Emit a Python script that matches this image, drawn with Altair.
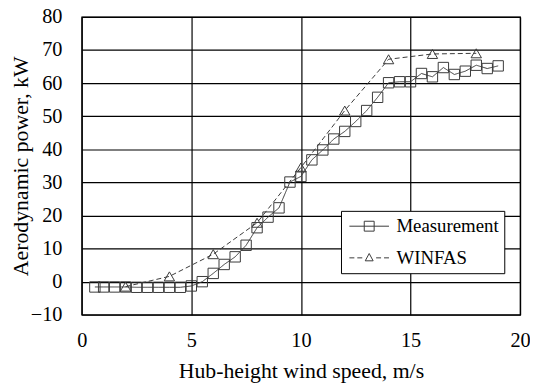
import altair as alt
import pandas as pd

# ---- data ----
series_names = ["Measurement", "WINFAS"]
meas_x = [0.6, 1.0, 1.5, 2.0, 2.5, 3.0, 3.5, 4.0, 4.5, 5.0,
          5.5, 6.0, 6.5, 7.0, 7.5, 8.0, 8.5, 9.0, 9.5, 10.0,
          10.5, 11.0, 11.5, 12.0, 12.5, 13.0, 13.5, 14.0, 14.5, 15.0,
          15.5, 16.0, 16.5, 17.0, 17.5, 18.0, 18.5, 19.0]
meas_y = [-1.6, -1.6, -1.6, -1.6, -1.7, -1.7, -1.7, -1.7, -1.7, -1.3,
          0.0, 2.5, 5.2, 7.5, 11.0, 16.3, 19.5, 22.3, 30.1, 31.8,
          36.8, 39.8, 43.1, 45.4, 48.4, 51.7, 55.7, 60.1, 60.4, 60.4,
          62.9, 61.9, 64.7, 62.6, 63.6, 65.4, 64.4, 65.2]
winfas_x = [2, 4, 6, 8, 10, 12, 14, 16, 18]
winfas_y = [-1.5, 1.6, 8.3, 17.8, 34.5, 51.7, 67.2, 68.8, 69.0]
x_ticks = [0, 5, 10, 15, 20]
y_ticks = [-10, 0, 10, 20, 30, 40, 50, 60, 70, 80]

df = pd.DataFrame({
    "x": meas_x + winfas_x,
    "y": meas_y + winfas_y,
    "series": [series_names[0]] * len(meas_x) + [series_names[1]] * len(winfas_x),
})

FONT = "Liberation Serif, Times New Roman, serif"
INK = "#3a3a3a"

# legend symbols: line + marker, as custom symbol paths (extend beyond the unit box)
MEAS_SYMBOL = "M-2,0H2M-0.5,-0.5H0.5V0.5H-0.5Z"
WINFAS_SYMBOL = ("M-2,0H-1.5M-1.2,0H-0.7M0.7,0H1.2M1.5,0H2"
                 "M0,-0.44L0.4,0.3L-0.4,0.3Z")

xenc = alt.X(
    "x:Q",
    scale=alt.Scale(domain=[0, 20], nice=False),
    axis=alt.Axis(values=x_ticks, title="Hub-height wind speed, m/s",
                  grid=True, gridColor="black", gridWidth=1.2, gridOpacity=1,
                  ticks=False, domain=False, labelFlush=False,
                  labelOverlap=False, labelFont=FONT, labelFontSize=20.5,
                  labelColor="black", labelPadding=16, titleFont=FONT,
                  titleFontSize=22, titleFontWeight="normal",
                  titleColor="black", titlePadding=10),
)
yenc = alt.Y(
    "y:Q",
    scale=alt.Scale(domain=[-10, 80], nice=False),
    axis=alt.Axis(values=y_ticks, title="Aerodynamic power, kW",
                  grid=True, gridColor="black", gridWidth=1.2, gridOpacity=1,
                  ticks=False, domain=False, labelFlush=False,
                  labelOverlap=False, labelFont=FONT, labelFontSize=20.5,
                  labelColor="black", labelPadding=20, titleFont=FONT,
                  titleFontSize=22, titleFontWeight="normal",
                  titleColor="black", titleX=-49.5, titleY=150.5),
)

base = alt.Chart(df)

lines = base.mark_line(color=INK, strokeWidth=1).encode(
    x=xenc, y=yenc,
    strokeDash=alt.StrokeDash("series:N",
                              scale=alt.Scale(domain=series_names,
                                              range=[[1, 0], [5, 3]]),
                              legend=None),
    detail="series:N",
)

points = base.mark_point(filled=False, color=INK, size=110, strokeWidth=1,
                         opacity=1).encode(
    x=xenc, y=yenc,
    shape=alt.Shape("series:N",
                    scale=alt.Scale(domain=series_names,
                                    range=["square", "triangle-up"]),
                    legend=None),
)

legend_layer = base.transform_filter("false").mark_point(
    filled=False, color=INK, strokeWidth=1, opacity=1).encode(
    x=xenc, y=yenc,
    shape=alt.Shape("series:N",
                    scale=alt.Scale(domain=series_names,
                                    range=[MEAS_SYMBOL, WINFAS_SYMBOL]),
                    legend=alt.Legend(title=None, orient="none",
                                      legendX=262, legendY=196,
                                      strokeColor="black", fillColor="white",
                                      padding=5, rowPadding=11,
                                      symbolSize=400, symbolStrokeWidth=1,
                                      symbolStrokeColor=INK,
                                      symbolFillColor="transparent",
                                      symbolOffset=13,
                                      labelOffset=17, labelFont=FONT,
                                      labelFontSize=19, labelColor="black")),
)

chart = alt.layer(lines, points, legend_layer).resolve_scale(
    shape="independent"
).properties(
    width=443, height=301,
    autosize=alt.AutoSizeParams(type="none"),
    padding={"left": 74.5, "top": 7, "right": 10, "bottom": 70},
    background="white",
).configure_view(stroke="black", strokeWidth=1.3)

chart.save("out.html", embed_options={"renderer": "svg", "actions": False})
